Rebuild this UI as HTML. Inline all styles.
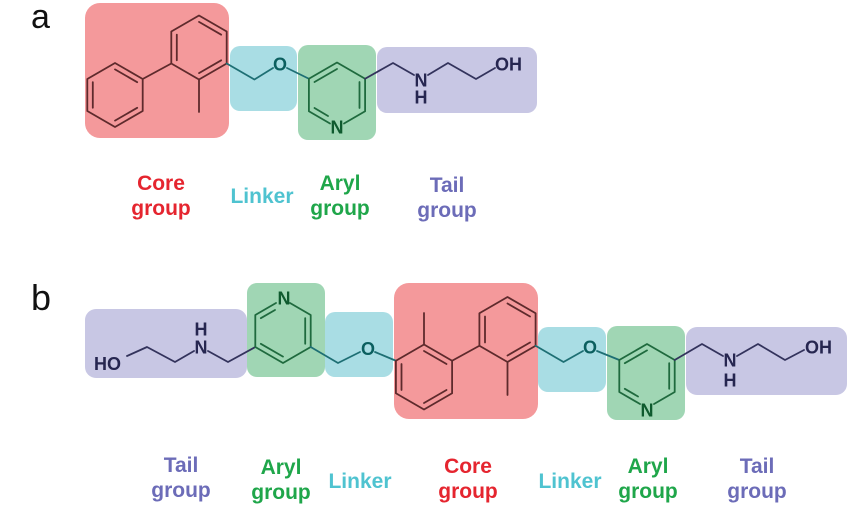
<!DOCTYPE html>
<html>
<head>
<meta charset="utf-8">
<style>
  html, body { margin:0; padding:0; background:#ffffff; }
  body { width:865px; height:530px; overflow:hidden; position:relative; }
  svg { position:absolute; left:0; top:0; }
  .lbl { font-family:"Liberation Sans", Arial, sans-serif; font-weight:bold; font-size:21px; text-anchor:middle; }
  .atom { font-family:"Liberation Sans", Arial, sans-serif; font-weight:bold; font-size:18px; text-anchor:middle; }
  .pl { font-family:"Liberation Sans", Arial, sans-serif; font-weight:normal; text-anchor:start; fill:#111; }
  .red { stroke:#5e2a2c; }
  .cy { stroke:#1e6f74; }
  .gr { stroke:#1f6a3e; }
  .pu { stroke:#33335c; }
  line, polyline, polygon.b { fill:none; stroke-width:1.8; stroke-linejoin:round; stroke-linecap:round; }
</style>
</head>
<body>
<svg width="865" height="530" viewBox="0 0 865 530" xmlns="http://www.w3.org/2000/svg">
  <!-- Panel labels -->
  <text class="pl" x="31" y="28" font-size="34">a</text>
  <text class="pl" x="31" y="310" font-size="36">b</text>

  <!-- ===== Panel a boxes ===== -->
  <rect x="85" y="3" width="144" height="135" rx="15" fill="#f4999b"/>
  <rect x="230" y="46" width="67" height="65" rx="10" fill="#a9dde4"/>
  <rect x="298" y="45" width="78" height="95" rx="10" fill="#a0d6b4"/>
  <rect x="377" y="47" width="160" height="66" rx="10" fill="#c8c7e4"/>

  <!-- Panel a bonds -->
  <g class="red">
    <polygon class="b" points="115,63 142.7,79 142.7,111 115,127 87.3,111 87.3,79"/>
    <line x1="92.8" y1="82.2" x2="92.8" y2="107.8"/>
    <line x1="115" y1="69.4" x2="137.2" y2="82.2"/>
    <line x1="137.2" y1="107.8" x2="115" y2="120.6"/>
    <line x1="142.7" y1="79" x2="171.3" y2="63.5"/>
    <polygon class="b" points="199,15.5 226.7,31.5 226.7,63.5 199,79.5 171.3,63.5 171.3,31.5"/>
    <line x1="176.8" y1="34.7" x2="176.8" y2="60.3"/>
    <line x1="199" y1="21.9" x2="221.2" y2="34.7"/>
    <line x1="221.2" y1="60.3" x2="199" y2="73.1"/>
    <line x1="199" y1="79.5" x2="199" y2="112"/>
  </g>
  <g class="cy">
    <polyline points="226.7,63.5 254.4,79.5 273,68"/>
    <line x1="287" y1="68" x2="308.9" y2="78.75"/>
  </g>
  <g class="gr">
    <polyline points="344,123.5 365.1,111.25 365.1,78.75 337,62.5 308.9,78.75 308.9,111.25 330,123.5"/>
    <line x1="314.5" y1="82" x2="337" y2="69"/>
    <line x1="359.5" y1="82" x2="359.5" y2="108"/>
    <line x1="314.5" y1="108" x2="328" y2="116"/>
  </g>
  <g class="pu">
    <polyline points="365.1,78.75 393,63 414,75"/>
    <polyline points="428,75 448,63 476,79 495,68"/>
  </g>

  <!-- Panel a atoms -->
  <text class="atom" x="280" y="70.5" fill="#0b5f5f">O</text>
  <text class="atom" x="337" y="133.5" fill="#0e5a2e">N</text>
  <text class="atom" x="421" y="86.5" fill="#262650">N</text>
  <text class="atom" x="421" y="103.5" fill="#262650">H</text>
  <text class="atom" x="495" y="70.5" fill="#262650" style="text-anchor:start">OH</text>

  <!-- Panel a labels -->
  <text class="lbl" x="161" y="190" fill="#e5252f">Core</text>
  <text class="lbl" x="161" y="215" fill="#e5252f">group</text>
  <text class="lbl" x="262" y="203" fill="#4fc3d0">Linker</text>
  <text class="lbl" x="340" y="190" fill="#1fa64a">Aryl</text>
  <text class="lbl" x="340" y="215" fill="#1fa64a">group</text>
  <text class="lbl" x="447" y="192" fill="#6c6cb8">Tail</text>
  <text class="lbl" x="447" y="217" fill="#6c6cb8">group</text>

  <!-- ===== Panel b boxes ===== -->
  <rect x="85" y="309" width="162" height="69" rx="11" fill="#c8c7e4"/>
  <rect x="247" y="283" width="78" height="94" rx="10" fill="#a0d6b4"/>
  <rect x="325" y="312" width="68" height="65" rx="10" fill="#a9dde4"/>
  <rect x="394" y="283" width="144" height="136" rx="15" fill="#f4999b"/>
  <rect x="538" y="327" width="68" height="65" rx="10" fill="#a9dde4"/>
  <rect x="607" y="326" width="78" height="94" rx="10" fill="#a0d6b4"/>
  <rect x="686" y="327" width="161" height="68" rx="11" fill="#c8c7e4"/>

  <!-- Panel b bonds -->
  <g class="pu">
    <polyline points="127,356 147,347 175,362 194,351"/>
    <polyline points="208,351 228,362 255.3,347"/>
  </g>
  <g class="gr">
    <polyline points="276,303 255.3,315 255.3,347 283,363 310.7,347 310.7,315 290,303"/>
    <line x1="260.8" y1="318.2" x2="275" y2="310"/>
    <line x1="305.2" y1="318.2" x2="305.2" y2="343.8"/>
    <line x1="260.8" y1="343.8" x2="283" y2="356.6"/>
  </g>
  <g class="cy">
    <polyline points="310.7,347 338,363 360,352"/>
    <line x1="375" y1="352" x2="395.9" y2="360.75"/>
  </g>
  <g class="red">
    <polygon class="b" points="424,344.5 452.1,360.75 452.1,393.25 424,409.5 395.9,393.25 395.9,360.75"/>
    <line x1="401.5" y1="364" x2="401.5" y2="390"/>
    <line x1="424" y1="351" x2="446.5" y2="364"/>
    <line x1="446.5" y1="390" x2="424" y2="403"/>
    <line x1="424" y1="344.5" x2="424" y2="313"/>
    <line x1="452.1" y1="360.75" x2="479.4" y2="345.75"/>
    <polygon class="b" points="507.5,297 535.6,313.25 535.6,345.75 507.5,362 479.4,345.75 479.4,313.25"/>
    <line x1="485" y1="316.5" x2="485" y2="342.5"/>
    <line x1="507.5" y1="303.5" x2="530" y2="316.5"/>
    <line x1="530" y1="342.5" x2="507.5" y2="355.5"/>
    <line x1="507.5" y1="362" x2="507.5" y2="395"/>
  </g>
  <g class="cy">
    <polyline points="535.6,345.75 563.5,362 583,351"/>
    <line x1="597" y1="351" x2="619.3" y2="360"/>
  </g>
  <g class="gr">
    <polyline points="654,404 674.7,392 674.7,360 647,344 619.3,360 619.3,392 640,404"/>
    <line x1="624.8" y1="363.2" x2="647" y2="350.4"/>
    <line x1="669.2" y1="363.2" x2="669.2" y2="388.8"/>
    <line x1="624.8" y1="388.8" x2="638" y2="396.5"/>
  </g>
  <g class="pu">
    <polyline points="674.7,360 702,344 723,356"/>
    <polyline points="737,356 758,344 785,360 804,350"/>
  </g>

  <!-- Panel b atoms -->
  <text class="atom" x="94" y="370" fill="#262650" style="text-anchor:start">HO</text>
  <text class="atom" x="201" y="353.5" fill="#262650">N</text>
  <text class="atom" x="201" y="335.5" fill="#262650">H</text>
  <text class="atom" x="284" y="304.5" fill="#0e5a2e">N</text>
  <text class="atom" x="368" y="355" fill="#0b5f5f">O</text>
  <text class="atom" x="590" y="353.5" fill="#0b5f5f">O</text>
  <text class="atom" x="647" y="416.5" fill="#0e5a2e">N</text>
  <text class="atom" x="730" y="366.5" fill="#262650">N</text>
  <text class="atom" x="730" y="386.5" fill="#262650">H</text>
  <text class="atom" x="805" y="353.5" fill="#262650" style="text-anchor:start">OH</text>

  <!-- Panel b labels -->
  <text class="lbl" x="181" y="472" fill="#6c6cb8">Tail</text>
  <text class="lbl" x="181" y="497" fill="#6c6cb8">group</text>
  <text class="lbl" x="281" y="474" fill="#1fa64a">Aryl</text>
  <text class="lbl" x="281" y="499" fill="#1fa64a">group</text>
  <text class="lbl" x="360" y="488" fill="#4fc3d0">Linker</text>
  <text class="lbl" x="468" y="473" fill="#e5252f">Core</text>
  <text class="lbl" x="468" y="498" fill="#e5252f">group</text>
  <text class="lbl" x="570" y="488" fill="#4fc3d0">Linker</text>
  <text class="lbl" x="648" y="473" fill="#1fa64a">Aryl</text>
  <text class="lbl" x="648" y="498" fill="#1fa64a">group</text>
  <text class="lbl" x="757" y="473" fill="#6c6cb8">Tail</text>
  <text class="lbl" x="757" y="498" fill="#6c6cb8">group</text>
</svg>
</body>
</html>
